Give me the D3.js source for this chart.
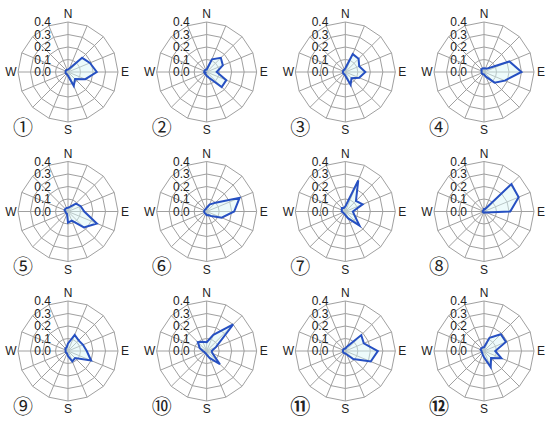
<!DOCTYPE html>
<html>
<head>
<meta charset="utf-8">
<script src="https://cdn.jsdelivr.net/npm/d3@7"></script>
<style>
  body { margin: 0; background: #fff; }
  svg { display: block; }
</style>
</head>
<body>
<div id="chart"></div>
<script>
// 16 wind directions, clockwise from north
const directions = ["N", "NNE", "NE", "ENE", "E", "ESE", "SE", "SSE", "S", "SSW", "SW", "WSW", "W", "WNW", "NW", "NNW"];
const ticks = [0, 0.1, 0.2, 0.3, 0.4];
const compass = ["N", "E", "S", "W"];
const panelLabels = ["①", "②", "③", "④", "⑤", "⑥", "⑦", "⑧", "⑨", "⑩", "⑪", "⑫"];

// frequency per direction
const panel1  = [0.02, 0.03, 0.16, 0.19, 0.23, 0.15, 0.08, 0.12, 0.03, 0.02, 0.02, 0.02, 0.02, 0.02, 0.02, 0.02];
const panel2  = [0.02, 0.11, 0.16, 0.14, 0.08, 0.17, 0.17, 0.05, 0.03, 0.02, 0.02, 0.01, 0.02, 0.02, 0.02, 0.02];
const panel3  = [0.03, 0.155, 0.15, 0.12, 0.16, 0.12, 0.07, 0.11, 0.03, 0.02, 0.02, 0.02, 0.02, 0.02, 0.02, 0.02];
const panel4  = [0.03, 0.03, 0.04, 0.22, 0.30, 0.18, 0.12, 0.04, 0.02, 0.02, 0.02, 0.02, 0.02, 0.02, 0.03, 0.03];
const panel5  = [0.03, 0.04, 0.09, 0.11, 0.13, 0.25, 0.18, 0.08, 0.09, 0.02, 0.02, 0.02, 0.02, 0.03, 0.03, 0.03];
const panel6  = [0.03, 0.06, 0.10, 0.285, 0.22, 0.13, 0.05, 0.03, 0.03, 0.02, 0.02, 0.02, 0.02, 0.02, 0.02, 0.02];
const panel7  = [0.04, 0.27, 0.12, 0.15, 0.06, 0.08, 0.16, 0.06, 0.03, 0.02, 0.02, 0.02, 0.03, 0.03, 0.04, 0.03];
const panel8  = [0.02, 0.02, 0.31, 0.30, 0.21, 0.02, 0.01, 0.01, 0.01, 0.01, 0.01, 0.01, 0.01, 0.01, 0.01, 0.01];
const panel9  = [0.06, 0.14, 0.12, 0.13, 0.15, 0.20, 0.08, 0.09, 0.04, 0.02, 0.02, 0.02, 0.02, 0.02, 0.03, 0.03];
const panel10 = [0.07, 0.14, 0.30, 0.08, 0.04, 0.05, 0.15, 0.06, 0.03, 0.02, 0.02, 0.02, 0.03, 0.06, 0.10, 0.08];
const panel11 = [0.02, 0.04, 0.18, 0.16, 0.26, 0.22, 0.09, 0.03, 0.02, 0.02, 0.02, 0.02, 0.02, 0.02, 0.02, 0.02];
const panel12 = [0.03, 0.115, 0.19, 0.19, 0.09, 0.15, 0.08, 0.14, 0.05, 0.03, 0.02, 0.02, 0.02, 0.03, 0.03, 0.03];

const panels = [panel1, panel2, panel3, panel4, panel5, panel6, panel7, panel8, panel9, panel10, panel11, panel12];

const width = 550;
const height = 429;
const outer = 50;

const r = d3.scaleLinear().domain([0, 0.4]).range([0, outer]);
const angle = d3.scaleLinear().domain([0, directions.length]).range([0, 2 * Math.PI]);

// grid of 4 columns x 3 rows of roses
const col = d3.scalePoint().domain([0, 1, 2, 3]).range([68, 484]);
const row = d3.scalePoint().domain([0, 1, 2]).range([72, 351]);

const svg = d3.select("#chart")
  .append("svg")
  .attr("width", width)
  .attr("height", height);

const ring = d3.lineRadial()
  .angle((d, i) => angle(i))
  .curve(d3.curveLinearClosed);

const rose = d3.lineRadial()
  .angle((d, i) => angle(i))
  .radius(d => r(d))
  .curve(d3.curveLinearClosed);

panels.forEach((values, p) => {
  const g = svg.append("g")
    .attr("transform", `translate(${col(p % 4)},${row(Math.floor(p / 4))})`);

  // polygon rings
  g.selectAll(".ring")
    .data(ticks.slice(1))
    .join("path")
    .attr("class", "ring")
    .attr("d", t => ring.radius(r(t))(directions))
    .attr("fill", "none")
    .attr("stroke", "#a0a0a0")
    .attr("stroke-width", 1);

  // spokes
  g.selectAll(".spoke")
    .data(directions)
    .join("line")
    .attr("class", "spoke")
    .attr("x1", 0)
    .attr("y1", 0)
    .attr("x2", (d, i) => outer * Math.sin(angle(i)))
    .attr("y2", (d, i) => -outer * Math.cos(angle(i)))
    .attr("stroke", "#a0a0a0")
    .attr("stroke-width", 1);

  // value labels up the north spoke
  g.selectAll(".tick")
    .data(ticks)
    .join("text")
    .attr("class", "tick")
    .attr("x", -17)
    .attr("y", t => -r(t))
    .attr("text-anchor", "end")
    .attr("dominant-baseline", "central")
    .style("font-family", "'Liberation Sans', Arial, sans-serif")
    .style("font-size", "12px")
    .style("fill", "#222")
    .text(t => t.toFixed(1));

  // rose
  g.append("path")
    .attr("d", rose(values))
    .attr("fill", "#d6f6f7")
    .attr("fill-opacity", 0.45)
    .attr("stroke", "#2650c2")
    .attr("stroke-width", 2)
    .attr("stroke-linejoin", "miter");

  // compass letters
  g.selectAll(".compass")
    .data(compass)
    .join("text")
    .attr("class", "compass")
    .attr("x", (d, i) => (i % 2 ? outer + 7 : 0) * (i === 3 ? -1 : 1))
    .attr("y", (d, i) => (i % 2 ? 0 : (outer + 8) * (i === 0 ? -1 : 1)))
    .attr("text-anchor", "middle")
    .attr("dominant-baseline", "central")
    .style("font-family", "'Liberation Sans', Arial, sans-serif")
    .style("font-size", "12px")
    .style("fill", "#222")
    .text(d => d);

  // circled panel number
  g.append("text")
    .attr("x", -45)
    .attr("y", 54)
    .attr("text-anchor", "middle")
    .attr("dominant-baseline", "central")
    .style("font-family", "'Noto Sans CJK JP', 'DejaVu Sans', sans-serif")
    .style("font-size", "20px")
    .style("font-weight", p >= 10 ? "bold" : "normal")
    .style("fill", "#222")
    .text(panelLabels[p]);
});
</script>
</body>
</html>
